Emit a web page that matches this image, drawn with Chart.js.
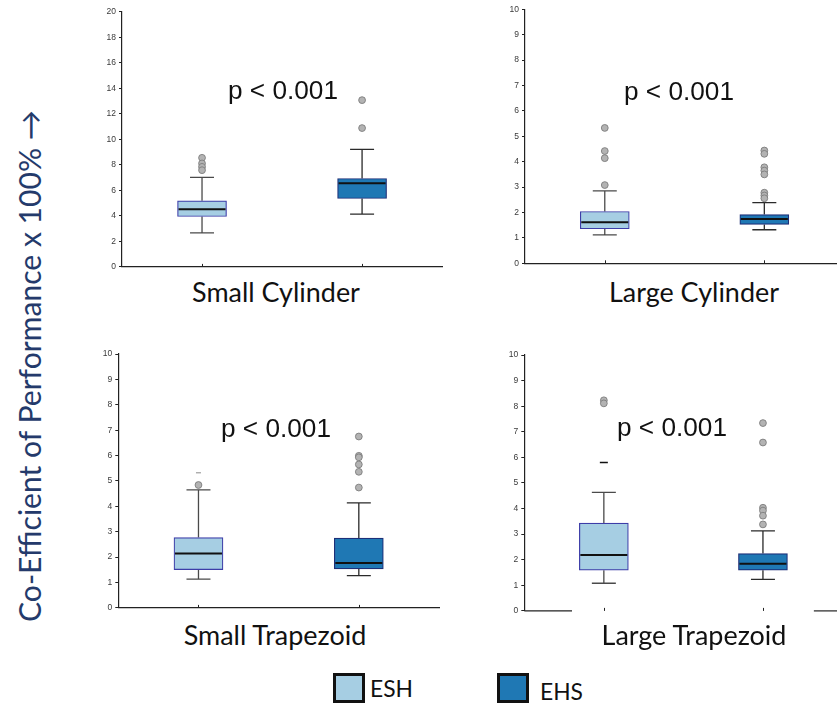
<!DOCTYPE html>
<html>
<head>
<meta charset="utf-8">
<script src="https://cdn.jsdelivr.net/npm/chart.js@4.4.1/dist/chart.umd.min.js"></script>
<style>
  html, body { margin: 0; padding: 0; background: #fff; overflow: hidden; }
  #stage { position: relative; width: 837px; height: 706px; overflow: hidden; background: #fff; }
  #stage canvas { position: absolute; }
  .txt { position: absolute; white-space: nowrap; line-height: 1; display: inline-block; }
  .key { position: absolute; box-sizing: border-box; border: 3px solid #111; }
</style>
</head>
<body>
<div id="stage"></div>
<script>
// ---- data -------------------------------------------------------------
const groups = ['ESH', 'EHS'];
const panelTitles = ['Small Cylinder', 'Large Cylinder', 'Small Trapezoid', 'Large Trapezoid'];
const pValueText = 'p < 0.001';
const axisTitle = 'Co-Efficient of Performance x 100% \u2192';

// five-number summaries: [lower whisker, Q1, median, Q3, upper whisker]
const smallCylESH = [2.67, 3.95, 4.52, 5.18, 7.01];
const smallCylEHS = [4.13, 5.36, 6.56, 6.93, 9.21];
const largeCylESH = [1.12, 1.36, 1.62, 2.04, 2.85];
const largeCylEHS = [1.32, 1.53, 1.74, 1.92, 2.39];
const smallTrapESH = [1.13, 1.51, 2.14, 2.77, 4.65];
const smallTrapEHS = [1.27, 1.54, 1.77, 2.75, 4.14];
const largeTrapESH = [1.08, 1.59, 2.18, 3.43, 4.63];
const largeTrapEHS = [1.23, 1.59, 1.84, 2.24, 3.13];

// outliers
const smallCylOutESH = [8.55, 8.11, 7.84, 7.58];
const smallCylOutEHS = [13.07, 10.88];
const largeCylOutESH = [5.33, 4.42, 4.14, 3.08];
const largeCylOutEHS = [4.44, 4.31, 3.78, 3.65, 3.50, 2.78, 2.67, 2.56];
const smallTrapOutESH = [4.84];
const smallTrapOutEHS = [6.75, 5.99, 5.93, 5.65, 5.36, 4.74];
const largeTrapOutESH = [8.23, 8.11];
const largeTrapOutEHS = [7.34, 6.58, 4.03, 3.92, 3.72, 3.38];

// stray short marks above the ESH boxes of the trapezoid panels
const smallTrapMarkESH = [5.32];
const largeTrapMarkESH = [5.80];

// value axis ranges
const yMaxValues = [20, 10, 10, 10];
const yStepValues = [2, 1, 1, 1];

// ---- styling / layout -------------------------------------------------
const fillColors = ['#a6cee3', '#1f78b4'];
const boxBorders = ['#3d3da8', '#1d2f78'];
const whiskerColors = ['#4a4a4a', '#2a2a2a'];
const AXW = 30;          // reserved width of the value axis
const PAD_T = 10, PAD_B = 8, PAD_R = 2;

// plot-area rectangles of the four panels
const frames = [
  { L: 122,   T: 11.7, R: 445, B: 266.7 },
  { L: 525,   T: 9.3,  R: 847, B: 264.3 },
  { L: 118.3, T: 354,  R: 441.7, B: 607.7 },
  { L: 524.3, T: 355,  R: 846, B: 610.7 }
];

const stage = document.getElementById('stage');

// Draws whiskers, caps, medians, category tick marks (and a broken base line if asked)
const boxWhisker = {
  id: 'boxWhisker',
  beforeDatasetsDraw(chart, _args, o) {
    const { ctx } = chart;
    const x = chart.scales.x, y = chart.scales.y;
    o.stats.forEach((s, i) => {
      const cx = x.getPixelForValue(i);
      const py = v => y.getPixelForValue(v);
      const h = o.capWidth / 2;
      ctx.save();
      ctx.strokeStyle = o.whiskerColors[i];
      ctx.lineWidth = 1.3;
      ctx.beginPath();
      ctx.moveTo(cx, py(s[4])); ctx.lineTo(cx, py(s[3]));
      ctx.moveTo(cx, py(s[1])); ctx.lineTo(cx, py(s[0]));
      ctx.moveTo(cx - h, py(s[4])); ctx.lineTo(cx + h, py(s[4]));
      ctx.moveTo(cx - h, py(s[0])); ctx.lineTo(cx + h, py(s[0]));
      ctx.stroke();
      ctx.restore();
    });
  },
  afterDatasetsDraw(chart, _args, o) {
    const { ctx, chartArea } = chart;
    const x = chart.scales.x, y = chart.scales.y;
    ctx.save();
    // medians
    ctx.strokeStyle = '#111';
    ctx.lineWidth = 2;
    o.stats.forEach((s, i) => {
      const cx = x.getPixelForValue(i);
      const my = y.getPixelForValue(s[2]);
      ctx.beginPath();
      ctx.moveTo(cx - o.boxWidth / 2 + 1, my);
      ctx.lineTo(cx + o.boxWidth / 2 - 1, my);
      ctx.stroke();
    });
    // inward category tick marks
    ctx.strokeStyle = '#222';
    ctx.lineWidth = 1;
    groups.forEach((g, i) => {
      const cx = Math.round(x.getPixelForValue(i)) + 0.5;
      ctx.beginPath();
      ctx.moveTo(cx, chartArea.bottom);
      ctx.lineTo(cx, chartArea.bottom - 3);
      ctx.stroke();
    });
    // partial base line
    if (o.baseSegments) {
      const w = chartArea.right - chartArea.left;
      ctx.lineWidth = 1.2;
      o.baseSegments.forEach(([a, b]) => {
        ctx.beginPath();
        ctx.moveTo(chartArea.left + a * w, chartArea.bottom);
        ctx.lineTo(chartArea.left + b * w, chartArea.bottom);
        ctx.stroke();
      });
    }
    ctx.restore();
  }
};

function pointsFor(label, values) {
  return values.map(v => ({ x: label, y: v }));
}

function makePanel(idx, esh, ehs, outESH, outEHS, marks, opts) {
  const f = frames[idx];
  const left = Math.floor(f.L - AXW - 4);
  const top = Math.floor(f.T - PAD_T);
  const width = Math.ceil(f.R - left + PAD_R);
  const height = Math.ceil(f.B - top + PAD_B);
  const cv = document.createElement('canvas');
  cv.width = width; cv.height = height;
  cv.style.left = left + 'px'; cv.style.top = top + 'px';
  cv.style.width = width + 'px'; cv.style.height = height + 'px';
  stage.appendChild(cv);

  const datasets = [
    {
      type: 'line', label: 'outliers', showLine: false, order: 0,
      data: pointsFor(groups[0], outESH).concat(pointsFor(groups[1], outEHS)),
      pointRadius: 3.4, pointBackgroundColor: '#b3b3b3',
      pointBorderColor: '#7d7d7d', pointBorderWidth: 0.9
    },
    {
      type: 'bar', label: 'boxes', order: 1,
      data: [[esh[1], esh[3]], [ehs[1], ehs[3]]],
      backgroundColor: fillColors, borderColor: boxBorders,
      borderWidth: 1.2, borderSkipped: false, barThickness: 49
    }
  ];
  if (marks) {
    datasets.push({
      type: 'line', label: 'marks', showLine: false, order: 0,
      data: pointsFor(groups[0], marks.values),
      pointStyle: 'line', pointRadius: marks.radius,
      pointBorderColor: marks.color, pointBorderWidth: marks.width
    });
  }

  new Chart(cv, {
    type: 'bar',
    data: { labels: groups, datasets },
    options: {
      responsive: false, animation: false, devicePixelRatio: 1,
      layout: { padding: { left: f.L - AXW - left, top: f.T - top, right: width - f.R, bottom: height - f.B } },
      plugins: {
        legend: { display: false }, tooltip: { enabled: false },
        boxWhisker: {
          stats: [esh, ehs], whiskerColors, capWidth: 24, boxWidth: 49,
          baseSegments: opts.baseSegments || null
        }
      },
      scales: {
        x: {
          type: 'category', offset: true,
          grid: { display: false, drawTicks: false },
          ticks: { display: false },
          border: { display: !opts.baseSegments, color: '#222', width: 1.2 },
          afterFit(s) { s.height = 0; }
        },
        y: {
          min: 0, max: yMaxValues[idx],
          ticks: {
            stepSize: yStepValues[idx], autoSkip: false, padding: 3,
            color: '#3a3a3a', font: { family: 'Liberation Sans', size: 8.5 }
          },
          grid: { drawOnChartArea: false, drawTicks: true, tickLength: 3, color: '#222' },
          border: { color: '#222', width: 1.2 },
          afterFit(s) { s.width = AXW; }
        }
      }
    },
    plugins: [boxWhisker]
  });
}

makePanel(0, smallCylESH, smallCylEHS, smallCylOutESH, smallCylOutEHS, null, {});
makePanel(1, largeCylESH, largeCylEHS, largeCylOutESH, largeCylOutEHS, null, {});
makePanel(2, smallTrapESH, smallTrapEHS, smallTrapOutESH, smallTrapOutEHS,
  { values: smallTrapMarkESH, radius: 2.5, color: '#8a8a8a', width: 1 }, {});
makePanel(3, largeTrapESH, largeTrapEHS, largeTrapOutESH, largeTrapOutEHS,
  { values: largeTrapMarkESH, radius: 4, color: '#111', width: 1.5 },
  { baseSegments: [[0, 0.15], [0.91, 1]] });

// ---- text ---------------------------------------------------------------
// places a text so that its baseline sits at `baseline`; optionally sizes it to a width
function placeText(str, o) {
  const el = document.createElement('div');
  el.className = 'txt';
  el.style.fontFamily = o.family;
  el.style.fontSize = o.size + 'px';
  el.style.color = o.color || '#111';
  el.appendChild(document.createTextNode(str));
  const mark = document.createElement('span');
  mark.style.cssText = 'display:inline-block;width:0;height:0;vertical-align:baseline;';
  el.appendChild(mark);
  stage.appendChild(el);
  if (o.fit) {
    const s = o.size * o.fit / el.getBoundingClientRect().width;
    el.style.fontSize = s + 'px';
  }
  const w = el.getBoundingClientRect().width;
  const h = el.getBoundingClientRect().height;
  if (o.rotate) {
    el.style.left = (o.cx - w / 2) + 'px';
    el.style.top = (o.cy - h / 2) + 'px';
    el.style.transform = 'rotate(-90deg)';
    el.style.transformOrigin = '50% 50%';
    return el;
  }
  const base = mark.offsetTop;
  el.style.top = (o.baseline - base) + 'px';
  el.style.left = (o.cx !== undefined ? o.cx - w / 2 : o.left) + 'px';
  return el;
}

const titleFont = 'Lato, "Open Sans", sans-serif';
const pFont = '"Liberation Sans", Arial, sans-serif';

// panel captions
const cap0 = placeText(panelTitles[0], { family: titleFont, size: 24, fit: 168, cx: 276, baseline: 301.5 });
const capSize = parseFloat(cap0.style.fontSize);
placeText(panelTitles[1], { family: titleFont, size: capSize, cx: 694, baseline: 301.5 });
placeText(panelTitles[2], { family: titleFont, size: capSize, cx: 275, baseline: 644.5 });
placeText(panelTitles[3], { family: titleFont, size: capSize, cx: 694, baseline: 644.5 });

// significance notes
const p0 = placeText(pValueText, { family: pFont, size: 26, fit: 110, left: 228, baseline: 99 });
const pSize = parseFloat(p0.style.fontSize);
placeText(pValueText, { family: pFont, size: pSize, left: 624, baseline: 100 });
placeText(pValueText, { family: pFont, size: pSize, left: 221, baseline: 437 });
placeText(pValueText, { family: pFont, size: pSize, left: 617, baseline: 436 });

// shared value-axis title
placeText(axisTitle, { family: titleFont, size: 26, fit: 512, color: '#243a6b', rotate: true, cx: 29, cy: 366 });

// legend
[[333, 673, 0], [497, 673, 1]].forEach(([lx, ly, i]) => {
  const k = document.createElement('div');
  k.className = 'key';
  k.style.left = lx + 'px'; k.style.top = ly + 'px';
  k.style.width = '32px'; k.style.height = '30px';
  k.style.background = fillColors[i];
  stage.appendChild(k);
});
const lg0 = placeText(groups[0], { family: titleFont, size: 24, fit: 43, left: 370, baseline: 697 });
placeText(groups[1], { family: titleFont, size: parseFloat(lg0.style.fontSize), left: 540, baseline: 700 });
</script>
</body>
</html>
